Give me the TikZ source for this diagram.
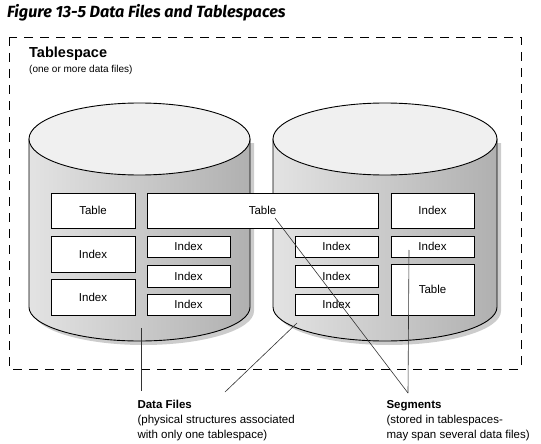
\documentclass[tikz,border=0pt]{standalone}
\usepackage{fontspec}
\setmainfont{Liberation Sans}
\newfontfamily\titlefont{Fira Sans}
\tikzset{
  seg/.style={draw, fill=white, line width=0.9pt, inner sep=0pt, minimum width=84pt, font=\fontsize{11.5}{13}\selectfont},
  leader/.style={draw=black!80, line width=0.6pt},
  disk/.style={draw, line width=0.9pt, left color=gray!22, middle color=gray!4, right color=gray!62},
  diskshadow/.style={fill=gray!40},
  note/.style={anchor=north west, align=left, font=\fontsize{11.5}{15}\selectfont}
}
\begin{document}
\begin{tikzpicture}[x=1pt,y=-1pt]
  \useasboundingbox (0,0) rectangle (541,444);
  \node[anchor=base west, inner sep=0pt, font=\titlefont\bfseries\itshape\fontsize{16.2}{19}\selectfont] (title) at (7,18) {Figure 13-5 Data Files and Tablespaces};
  \draw[line width=0.9pt, dash pattern=on 9pt off 7pt] (9,37) rectangle (521,369);
  \node[anchor=base west, inner sep=0pt, font=\bfseries\fontsize{14.5}{17}\selectfont] (tsname) at (29,58) {Tablespace};
  \node[anchor=base west, inner sep=0pt, font=\fontsize{10}{12}\selectfont] (tsnote) at (29,73) {(one or more data files)};
  % data file 1
  \fill[diskshadow] (33,143) -- (33,311) arc[start angle=180, end angle=0, x radius=110.5, y radius=34] -- (254,143) -- cycle;
  \path[disk] (29,139) -- (29,307) arc[start angle=180, end angle=0, x radius=110.5, y radius=34] -- (250,139) -- cycle;
  \draw[fill=gray!12, line width=0.9pt] (139.5,139) ellipse[x radius=110.5, y radius=36];
  % data file 2
  \fill[diskshadow] (277,143) -- (277,311) arc[start angle=180, end angle=0, x radius=112, y radius=34] -- (501,143) -- cycle;
  \path[disk] (273,139) -- (273,307) arc[start angle=180, end angle=0, x radius=112, y radius=34] -- (497,139) -- cycle;
  \draw[fill=gray!12, line width=0.9pt] (385,139) ellipse[x radius=112, y radius=36];
  % segments
  \node[seg, minimum height=35pt] (tbl1) at (93,210.5) {Table};
  \node[seg, minimum height=36pt] (idx1) at (93,254) {Index};
  \node[seg, minimum height=36pt] (idx2) at (93,297) {Index};
  \node[seg, minimum width=231pt, minimum height=35pt] (tbl2) at (262.5,210.5) {Table};
  \node[seg, minimum width=83pt, minimum height=21pt] (idx3) at (188.5,246.5) {Index};
  \node[seg, minimum width=83pt, minimum height=22pt] (idx4) at (188.5,276) {Index};
  \node[seg, minimum width=83pt, minimum height=21pt] (idx5) at (188.5,304.5) {Index};
  \node[seg, minimum width=83pt, minimum height=21pt] (idx6) at (336.5,246.5) {Index};
  \node[seg, minimum width=83pt, minimum height=22pt] (idx7) at (336.5,276) {Index};
  \node[seg, minimum width=83pt, minimum height=21pt] (idx8) at (336.5,304.5) {Index};
  \node[seg, minimum width=83pt, minimum height=35pt] (idx9) at (432.5,210.5) {Index};
  \node[seg, minimum width=83pt, minimum height=21pt] (idx10) at (432.5,246.5) {Index};
  \node[seg, minimum width=83pt, minimum height=51pt] (tbl3) at (432.5,289.5) {Table};
  % notes
  \node[note] (dfiles) at (134,397) {\textbf{Data Files}\\(physical structures associated\\with only one tablespace)};
  \node[note] (segs) at (383,397) {\textbf{Segments}\\(stored in tablespaces-\\may span several data files)};
  \coordinate (df1) at (141,328);
  \coordinate (df2) at (297,323);
  \coordinate (df1end) at (141,391);
  \coordinate (df2end) at (225,392);
  \coordinate (sg1) at (275,218);
  \coordinate (sg2) at (409,250);
  \coordinate (sgend) at (408,393);
  \draw[leader] (df1) -- (df1end);
  \draw[leader] (df2) -- (df2end);
  \draw[leader] (sg1) -- (sgend);
  \draw[leader] (sg2) -- (sgend);
\end{tikzpicture}
\end{document}
